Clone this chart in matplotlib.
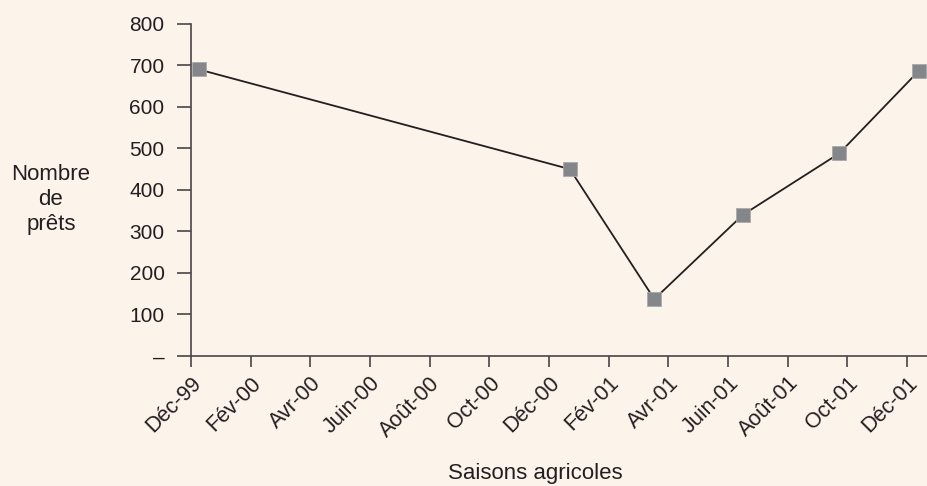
import matplotlib.pyplot as plt

plt.rcParams['font.family'] = ['Liberation Sans', 'DejaVu Sans']

# months since Dec 1999
mois = [0.27, 12.7, 15.53, 18.5, 21.73, 24.4]
prets = [690, 450, 137, 340, 488, 687]

tick_pos = list(range(0, 25, 2))
tick_lab = ['Déc-99', 'Fév-00', 'Avr-00', 'Juin-00', 'Août-00', 'Oct-00', 'Déc-00',
            'Fév-01', 'Avr-01', 'Juin-01', 'Août-01', 'Oct-01', 'Déc-01']
y_ticks = [0, 100, 200, 300, 400, 500, 600, 700, 800]
y_lab = ['–', '100', '200', '300', '400', '500', '600', '700', '800']

bg = '#fcf3ea'
fig = plt.figure(figsize=(9.27, 4.86), dpi=100, facecolor=bg)
ax = fig.add_axes([0.206, 0.2675, 0.794, 0.6835], facecolor=bg)

ax.plot(mois, prets, color='#231f20', lw=1.3, marker='s', markersize=10.5,
        markerfacecolor='#85868a', markeredgecolor='#a9aaad', markeredgewidth=0.6,
        clip_on=False, zorder=3)

ax.set_xlim(0, 24.67)
ax.set_ylim(0, 800)
ax.set_xticks(tick_pos)
ax.set_xticklabels(tick_lab, rotation=45, ha='right', rotation_mode='anchor', fontsize=15.5, color='#231f20')
ax.set_yticks(y_ticks)
ax.set_yticklabels(y_lab, fontsize=15, color='#231f20')
ax.tick_params(axis='y', direction='out', length=10, width=1.2, color='#4a4546', pad=9)
ax.tick_params(axis='x', direction='out', length=8, width=1.2, color='#4a4546', pad=4)

for s in ['top', 'right']:
    ax.spines[s].set_visible(False)
for s in ['left', 'bottom']:
    ax.spines[s].set_color('#4a4546')
    ax.spines[s].set_linewidth(1.2)

fig.text(0.055, 0.59, 'Nombre\nde\nprêts', ha='center', va='center', fontsize=16,
         color='#231f20', linespacing=1.25)
fig.text(0.577, 0.025, 'Saisons agricoles', ha='center', va='center', fontsize=16, color='#231f20')

fig.savefig('out.png', dpi=100, facecolor=bg)
